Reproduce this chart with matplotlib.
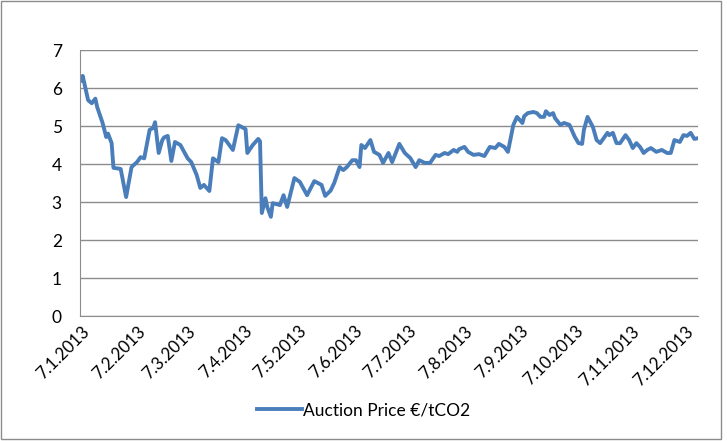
import matplotlib.pyplot as plt
import matplotlib.patches as mpatches
import numpy as np

# ---------- Data ----------
start_date = np.datetime64("2013-01-07")

# days after 7.1.2013 for each plotted auction price
day_offsets = [
    0, 1, 4, 6, 8, 9, 12, 14, 15, 17, 18, 22, 25, 28, 31, 33, 35, 38, 40, 41,
    43, 45, 46, 48, 50, 52, 55, 59, 61, 64, 66, 68, 71, 73, 76, 78, 80, 84, 87, 91,
    92, 95, 98, 99, 100, 102, 103, 105, 106, 110, 112, 114, 118, 121, 125, 129, 133, 135, 138, 140,
    143, 145, 147, 150, 152, 154, 155, 157, 160, 162, 165, 167, 170, 172, 176, 179, 182, 185, 187, 190,
    193, 196, 198, 201, 203, 206, 208, 209, 212, 214, 217, 220, 223, 226, 229, 231, 234, 236, 239, 241,
    244, 245, 247, 250, 252, 254, 256, 257, 259, 261, 262, 265, 267, 270, 273, 275, 277, 278, 280, 283,
    285, 287, 291, 292, 294, 296, 298, 301, 303, 305, 307, 309, 311, 313, 315, 318, 321, 324, 326, 328,
    331, 333, 335, 337, 339, 341,
]

auction_price = [
    6.20, 6.32, 5.68, 5.60, 5.72, 5.50, 5.08, 4.71, 4.80, 4.55, 3.90, 3.87, 3.13, 3.92, 4.05, 4.18, 4.15, 4.90, 4.95, 5.10,
    4.29, 4.63, 4.70, 4.74, 4.08, 4.58, 4.50, 4.15, 4.05, 3.71, 3.37, 3.45, 3.29, 4.15, 4.05, 4.68, 4.63, 4.37, 5.02, 4.92,
    4.29, 4.50, 4.66, 4.60, 2.71, 3.10, 2.87, 2.61, 2.97, 2.92, 3.18, 2.87, 3.63, 3.53, 3.18, 3.55, 3.45, 3.16, 3.30, 3.50,
    3.92, 3.84, 3.92, 4.10, 4.10, 3.92, 4.50, 4.42, 4.63, 4.32, 4.24, 4.03, 4.29, 4.05, 4.53, 4.29, 4.16, 3.92, 4.10, 4.03,
    4.03, 4.24, 4.21, 4.29, 4.26, 4.37, 4.32, 4.39, 4.45, 4.32, 4.24, 4.26, 4.21, 4.45, 4.42, 4.53, 4.45, 4.32, 5.03, 5.24,
    5.08, 5.26, 5.34, 5.37, 5.34, 5.24, 5.24, 5.39, 5.29, 5.34, 5.21, 5.03, 5.08, 5.03, 4.71, 4.55, 4.53, 4.90, 5.24, 4.97,
    4.63, 4.55, 4.82, 4.76, 4.82, 4.55, 4.55, 4.76, 4.63, 4.42, 4.55, 4.45, 4.29, 4.37, 4.42, 4.32, 4.37, 4.29, 4.29, 4.63,
    4.58, 4.76, 4.74, 4.82, 4.66, 4.68,
]

tick_dates = ["2013-01-07", "2013-02-07", "2013-03-07", "2013-04-07", "2013-05-07", "2013-06-07",
              "2013-07-07", "2013-08-07", "2013-09-07", "2013-10-07", "2013-11-07", "2013-12-07"]
tick_labels = ["7.1.2013", "7.2.2013", "7.3.2013", "7.4.2013", "7.5.2013", "7.6.2013",
               "7.7.2013", "7.8.2013", "7.9.2013", "7.10.2013", "7.11.2013", "7.12.2013"]

series_label = "Auction Price €/tCO2"

# ---------- Plot ----------
plt.rcParams["font.family"] = ["Lato", "DejaVu Sans"]

dates = start_date + np.array(day_offsets).astype("timedelta64[D]")

fig = plt.figure(figsize=(7.27, 4.41), dpi=100)
ax = fig.add_axes([0.110, 0.2834, 0.850, 0.6032])

ax.plot(dates, auction_price, color="#4A7EBB", linewidth=2.8, label=series_label,
        solid_joinstyle="round")

ax.set_ylim(0, 7)
ax.set_yticks(range(0, 8))
ax.set_xlim(start_date - np.timedelta64(12, "h"), start_date + np.timedelta64(341, "D"))
ax.set_xticks(np.array(tick_dates, dtype="datetime64[D]"))
ax.set_xticklabels(tick_labels, rotation=45, ha="right", rotation_mode="anchor")

ax.grid(axis="y", color="#8C8C8C", linewidth=1.0)
ax.set_axisbelow(True)
for side in ["top", "right"]:
    ax.spines[side].set_visible(False)
ax.spines["left"].set_color("#8C8C8C")
ax.spines["bottom"].set_color("#8C8C8C")
ax.tick_params(axis="both", length=0, colors="black")
ax.tick_params(axis="y", pad=13, labelsize=12.5)
ax.tick_params(axis="x", pad=5, labelsize=12.2)

fig.legend(loc="center", bbox_to_anchor=(0.5, 0.07), frameon=False, fontsize=12.5,
           handlelength=2.6, handletextpad=0.1)

# chart area frame
fig.patches.append(mpatches.Rectangle((0.002, 0.005), 0.990, 0.992, transform=fig.transFigure,
                                      fill=False, edgecolor="#8C8C8C", linewidth=1.0))

fig.savefig("out.png", dpi=100)
